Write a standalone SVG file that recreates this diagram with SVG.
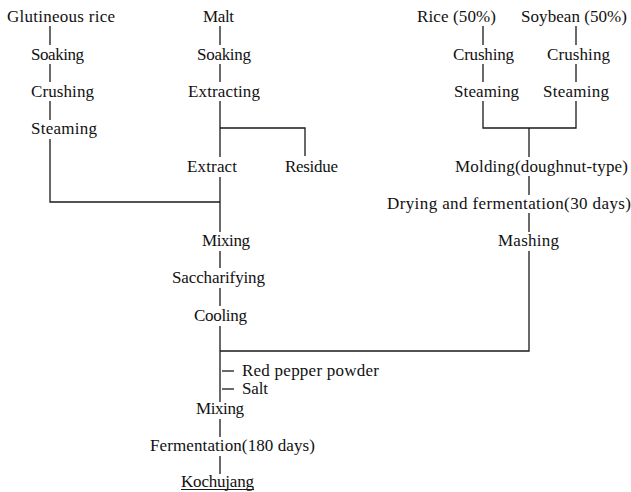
<svg xmlns="http://www.w3.org/2000/svg" width="631" height="492" viewBox="0 0 631 492">
<style>
text{font-family:"Liberation Serif","Times New Roman",serif;font-size:17px;fill:#111;}
.c line,.c polyline{stroke:#1a1a1a;stroke-width:1.3;fill:none;}
</style>
<rect width="631" height="492" fill="#fff"/>
<g class="c" id="connectors">
<line x1="50" y1="26" x2="50" y2="45"/>
<line x1="50" y1="64" x2="50" y2="82"/>
<line x1="50" y1="101" x2="50" y2="120"/>
<polyline points="50,139 50,202 220,202"/>
<line x1="220" y1="26" x2="220" y2="45"/>
<line x1="220" y1="64" x2="220" y2="82"/>
<line x1="220" y1="101" x2="220" y2="157"/>
<polyline points="220,128 305,128 305,156"/>
<line x1="220" y1="177" x2="220" y2="232"/>
<line x1="220" y1="251" x2="220" y2="268"/>
<line x1="220" y1="288" x2="220" y2="306"/>
<line x1="220" y1="326" x2="220" y2="402"/>
<polyline points="220,351 529,351 529,251"/>
<line x1="222" y1="371" x2="234" y2="371"/>
<line x1="222" y1="389" x2="234" y2="389"/>
<line x1="220" y1="419" x2="220" y2="437"/>
<line x1="220" y1="456" x2="220" y2="474"/>
<line x1="483" y1="26" x2="483" y2="45"/>
<line x1="483" y1="64" x2="483" y2="82"/>
<line x1="576" y1="26" x2="576" y2="45"/>
<line x1="576" y1="64" x2="576" y2="82"/>
<polyline points="483,101 483,128 576,128 576,101"/>
<line x1="529" y1="128" x2="529" y2="157"/>
<line x1="529" y1="176" x2="529" y2="195"/>
<line x1="529" y1="213" x2="529" y2="232"/>
</g>
<g id="n-glutinous"><text x="7" y="22" textLength="108" lengthAdjust="spacing">Glutineous rice</text></g>
<g id="n-soaking1"><text x="31" y="60" textLength="53" lengthAdjust="spacing">Soaking</text></g>
<g id="n-crushing1"><text x="31" y="97" textLength="63" lengthAdjust="spacing">Crushing</text></g>
<g id="n-steaming1"><text x="31" y="134" textLength="66" lengthAdjust="spacing">Steaming</text></g>
<g id="n-malt"><text x="203" y="22" textLength="31" lengthAdjust="spacing">Malt</text></g>
<g id="n-soaking2"><text x="197" y="60" textLength="54" lengthAdjust="spacing">Soaking</text></g>
<g id="n-extracting"><text x="188" y="97" textLength="72" lengthAdjust="spacing">Extracting</text></g>
<g id="n-extract"><text x="187" y="172" textLength="50" lengthAdjust="spacing">Extract</text></g>
<g id="n-residue"><text x="285" y="172" textLength="53" lengthAdjust="spacing">Residue</text></g>
<g id="n-mixing1"><text x="202" y="246" textLength="48" lengthAdjust="spacing">Mixing</text></g>
<g id="n-saccharifying"><text x="172" y="283" textLength="93" lengthAdjust="spacing">Saccharifying</text></g>
<g id="n-cooling"><text x="194" y="321" textLength="53" lengthAdjust="spacing">Cooling</text></g>
<g id="n-redpepper"><text x="242" y="376" textLength="137" lengthAdjust="spacing">Red pepper powder</text></g>
<g id="n-salt"><text x="242" y="394" textLength="26" lengthAdjust="spacing">Salt</text></g>
<g id="n-mixing2"><text x="196" y="414" textLength="48" lengthAdjust="spacing">Mixing</text></g>
<g id="n-fermentation"><text x="150" y="451" textLength="165" lengthAdjust="spacing">Fermentation(180 days)</text></g>
<g id="n-kochujang"><text x="181" y="487" textLength="73" lengthAdjust="spacing">Kochujang</text><line x1="181" y1="489.5" x2="254" y2="489.5" stroke="#1a1a1a" stroke-width="1.2"/></g>
<g id="n-rice"><text x="417" y="22" textLength="79" lengthAdjust="spacing">Rice (50%)</text></g>
<g id="n-soybean"><text x="521" y="22" textLength="106" lengthAdjust="spacing">Soybean (50%)</text></g>
<g id="n-crushing2"><text x="453" y="60" textLength="61" lengthAdjust="spacing">Crushing</text></g>
<g id="n-crushing3"><text x="547" y="60" textLength="63" lengthAdjust="spacing">Crushing</text></g>
<g id="n-steaming2"><text x="454" y="97" textLength="65" lengthAdjust="spacing">Steaming</text></g>
<g id="n-steaming3"><text x="543" y="97" textLength="66" lengthAdjust="spacing">Steaming</text></g>
<g id="n-molding"><text x="455" y="172" textLength="173" lengthAdjust="spacing">Molding(doughnut-type)</text></g>
<g id="n-drying"><text x="387" y="209" textLength="244" lengthAdjust="spacing">Drying and fermentation(30 days)</text></g>
<g id="n-mashing"><text x="498" y="246" textLength="61" lengthAdjust="spacing">Mashing</text></g>
</svg>
